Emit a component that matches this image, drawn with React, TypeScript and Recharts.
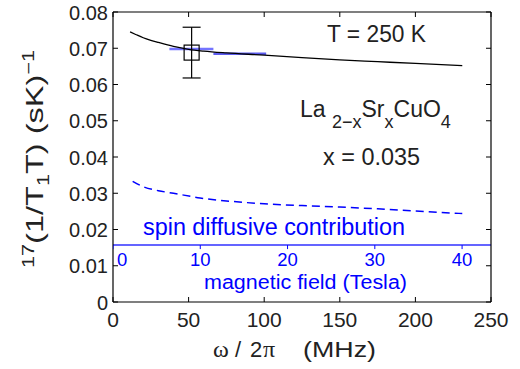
import React from 'react';
import { ComposedChart, Line, Scatter, XAxis, YAxis, ErrorBar, ReferenceLine } from 'recharts';

// ---- data ----
const xTicks = [0, 50, 100, 150, 200, 250];
const yTicks = [0, 0.01, 0.02, 0.03, 0.04, 0.05, 0.06, 0.07, 0.08];

// model curve (black, solid)
const fitCurve = [
  { x: 11.3, y: 0.0745 },
  { x: 15, y: 0.0738 },
  { x: 20, y: 0.0729 },
  { x: 25, y: 0.0722 },
  { x: 30, y: 0.0716 },
  { x: 40, y: 0.0705 },
  { x: 50, y: 0.0697 },
  { x: 60, y: 0.0692 },
  { x: 75, y: 0.0687 },
  { x: 100, y: 0.0681 },
  { x: 125, y: 0.0674 },
  { x: 150, y: 0.0668 },
  { x: 175, y: 0.0663 },
  { x: 200, y: 0.0658 },
  { x: 231, y: 0.0652 },
];

// blue dashed curve
const dashedCurve = [
  { x: 13, y: 0.0333 },
  { x: 20, y: 0.0318 },
  { x: 30, y: 0.0307 },
  { x: 40, y: 0.0300 },
  { x: 57.6, y: 0.0287 },
  { x: 80, y: 0.0277 },
  { x: 100, y: 0.0271 },
  { x: 125, y: 0.0266 },
  { x: 150, y: 0.0262 },
  { x: 175, y: 0.0257 },
  { x: 200, y: 0.0251 },
  { x: 231, y: 0.0244 },
];

// light blue horizontal segments
const segmentA = [
  { x: 37.3, y: 0.0698 },
  { x: 66.4, y: 0.0698 },
];
const segmentB = [
  { x: 66.4, y: 0.0685 },
  { x: 101.3, y: 0.0685 },
];

// measured point with error bar
const measured = [{ x: 52, y: 0.0688, err: 0.0070 }];

// spin diffusive contribution level
const spinDiffusive = 0.0157;

// secondary field scale (17O: MHz per Tesla)
const gammaO17 = 5.772;
const fieldTicks = [0, 10, 20, 30, 40];
const fieldData = fieldTicks.map((t) => ({ x: t * gammaO17, y: spinDiffusive, label: String(t) }));

const FONT = '"Liberation Sans", Arial, Helvetica, sans-serif';
const SERIF = '"Liberation Serif", "DejaVu Serif", serif';
const TXT = '#222';
const BLUE = '#0000ff';

const fmtY = (v: number) => (v === 0 ? '0' : v.toFixed(2));

const BottomTick = (p: any) => {
  const { x, y, payload } = p;
  return (
    <g>
      <line x1={x} x2={x} y1={y} y2={y - 5} stroke="#000" strokeWidth={1} />
      <text x={x} y={y + 25} textAnchor="middle" fontSize={21} fill={TXT} fontFamily={FONT}>
        {payload.value}
      </text>
    </g>
  );
};

const TopTick = (p: any) => {
  const { x, y } = p;
  return <line x1={x} x2={x} y1={y} y2={y + 5} stroke="#000" strokeWidth={1} />;
};

const LeftTick = (p: any) => {
  const { x, y, payload } = p;
  return (
    <g>
      <line x1={x} x2={x + 5} y1={y} y2={y} stroke="#000" strokeWidth={1} />
      <text x={x - 5} y={y + 7.5} textAnchor="end" fontSize={20} fill={TXT} fontFamily={FONT}>
        {fmtY(payload.value)}
      </text>
    </g>
  );
};

const RightTick = (p: any) => {
  const { x, y } = p;
  return <line x1={x} x2={x - 5} y1={y} y2={y} stroke="#000" strokeWidth={1} />;
};

const SquareMarker = (p: any) => {
  const { cx, cy } = p;
  const s = 15;
  return <rect x={cx - s / 2} y={cy - s / 2} width={s} height={s} fill="none" stroke="#000" strokeWidth={1.2} />;
};

const FieldTick = (p: any) => {
  const { cx, cy, payload } = p;
  const isZero = payload.label === '0';
  return (
    <g>
      <line x1={cx} x2={cx} y1={cy} y2={cy + 4} stroke={BLUE} strokeWidth={1} />
      <text
        x={isZero ? cx + 4 : cx}
        y={cy + 21}
        textAnchor={isZero ? 'start' : 'middle'}
        fontSize={18.5}
        fill={BLUE}
        fontFamily={FONT}
      >
        {payload.label}
      </text>
    </g>
  );
};

export default function App() {
  return (
    <div style={{ position: 'absolute', left: 0, top: 0, width: 520, height: 369, background: '#fff' }}>
      <ComposedChart
        width={520}
        height={369}
        margin={{ top: 11, right: 28, bottom: 0, left: 0 }}
        style={{ position: 'absolute', left: 0, top: 0 }}
      >
        <XAxis
          xAxisId="b"
          dataKey="x"
          type="number"
          domain={[0, 250]}
          ticks={xTicks}
          interval={0}
          height={67}
          tickSize={0}
          tickMargin={0}
          tickLine={false}
          axisLine={{ stroke: '#000', strokeWidth: 1.2 }}
          tick={<BottomTick />}
          allowDataOverflow
        />
        <XAxis
          xAxisId="t"
          orientation="top"
          dataKey="x"
          type="number"
          domain={[0, 250]}
          ticks={xTicks}
          interval={0}
          height={1}
          tickSize={0}
          tickMargin={0}
          tickLine={false}
          axisLine={{ stroke: '#000', strokeWidth: 1.2 }}
          tick={<TopTick />}
          allowDataOverflow
        />
        <YAxis
          yAxisId="l"
          type="number"
          domain={[0, 0.08]}
          ticks={yTicks}
          interval={0}
          width={113}
          tickSize={0}
          tickMargin={0}
          tickLine={false}
          axisLine={{ stroke: '#000', strokeWidth: 1.2 }}
          tick={<LeftTick />}
          allowDataOverflow
        />
        <YAxis
          yAxisId="r"
          orientation="right"
          type="number"
          domain={[0, 0.08]}
          ticks={yTicks}
          interval={0}
          width={1}
          tickSize={0}
          tickMargin={0}
          tickLine={false}
          axisLine={{ stroke: '#000', strokeWidth: 1.2 }}
          tick={<RightTick />}
          allowDataOverflow
        />

        <ReferenceLine xAxisId="b" yAxisId="l" y={spinDiffusive} stroke="#3030ff" strokeWidth={1.5} />

        <Line
          xAxisId="b"
          yAxisId="l"
          data={dashedCurve}
          dataKey="y"
          type="monotone"
          stroke={BLUE}
          strokeWidth={1.5}
          strokeDasharray="8 5"
          dot={false}
          isAnimationActive={false}
        />
        <Line
          xAxisId="b"
          yAxisId="l"
          data={segmentA}
          dataKey="y"
          stroke="#7474ff"
          strokeWidth={2.5}
          dot={false}
          isAnimationActive={false}
        />
        <Line
          xAxisId="b"
          yAxisId="l"
          data={segmentB}
          dataKey="y"
          stroke="#5c5cf0"
          strokeWidth={2.5}
          dot={false}
          isAnimationActive={false}
        />
        <Line
          xAxisId="b"
          yAxisId="l"
          data={fitCurve}
          dataKey="y"
          type="monotone"
          stroke="#000"
          strokeWidth={1.3}
          dot={false}
          isAnimationActive={false}
        />
        <Scatter
          xAxisId="b"
          yAxisId="l"
          data={measured}
          dataKey="y"
          shape={<SquareMarker />}
          isAnimationActive={false}
        >
          <ErrorBar dataKey="err" direction="y" width={9} stroke="#000" strokeWidth={1.2} isAnimationActive={false} />
        </Scatter>
        <Scatter
          xAxisId="b"
          yAxisId="l"
          data={fieldData}
          dataKey="y"
          shape={<FieldTick />}
          isAnimationActive={false}
        />
      </ComposedChart>

      <svg
        width={520}
        height={369}
        style={{ position: 'absolute', left: 0, top: 0, pointerEvents: 'none', whiteSpace: 'pre' }}
      >
        {/* y-axis label */}
        <g transform="translate(43,159) rotate(-90)">
          <text
            x={0}
            y={0}
            textAnchor="middle"
            fontSize={24}
            fill={TXT}
            fontFamily={FONT}
            textLength={218}
            lengthAdjust="spacingAndGlyphs"
          >
            <tspan fontSize={16} dy={-9}>17</tspan>
            <tspan dy={9}>(1/T</tspan>
            <tspan fontSize={16} dy={6}>1</tspan>
            <tspan dy={-6}>T) (sK)</tspan>
            <tspan fontSize={16} dy={-9}>−1</tspan>
          </text>
        </g>

        {/* x-axis label */}
        <text x={213} y={357} fontSize={24} fill={TXT} fontFamily={SERIF}>ω</text>
        <text x={235} y={357} fontSize={22} fill={TXT} fontFamily={FONT}>/</text>
        <text x={250} y={357} fontSize={22} fill={TXT} fontFamily={FONT}>2</text>
        <text x={263} y={357} fontSize={24} fill={TXT} fontFamily={SERIF}>π</text>
        <text x={303} y={357} fontSize={22} fill={TXT} fontFamily={FONT} textLength={73} lengthAdjust="spacingAndGlyphs">
          (MHz)
        </text>

        {/* annotations */}
        <text x={327} y={42} fontSize={23} fill={TXT} fontFamily={FONT} textLength={99} lengthAdjust="spacingAndGlyphs">
          T = 250 K
        </text>
        <text x={300} y={117} fontSize={23} fill={TXT} fontFamily={FONT}>
          <tspan>La </tspan>
          <tspan fontSize={18} dy={11}>2−x</tspan>
          <tspan dy={-11}>Sr</tspan>
          <tspan fontSize={18} dy={11}>x</tspan>
          <tspan dy={-11}>CuO</tspan>
          <tspan fontSize={18} dy={11}>4</tspan>
        </text>
        <text x={323} y={165} fontSize={23} fill={TXT} fontFamily={FONT} textLength={97} lengthAdjust="spacingAndGlyphs">
          x = 0.035
        </text>
        <text x={143} y={235} fontSize={23} fill={BLUE} fontFamily={FONT} textLength={262} lengthAdjust="spacingAndGlyphs">
          spin diffusive contribution
        </text>
        <text x={204} y={289} fontSize={20} fill={BLUE} fontFamily={FONT} textLength={203} lengthAdjust="spacingAndGlyphs">
          magnetic field (Tesla)
        </text>
      </svg>
    </div>
  );
}
